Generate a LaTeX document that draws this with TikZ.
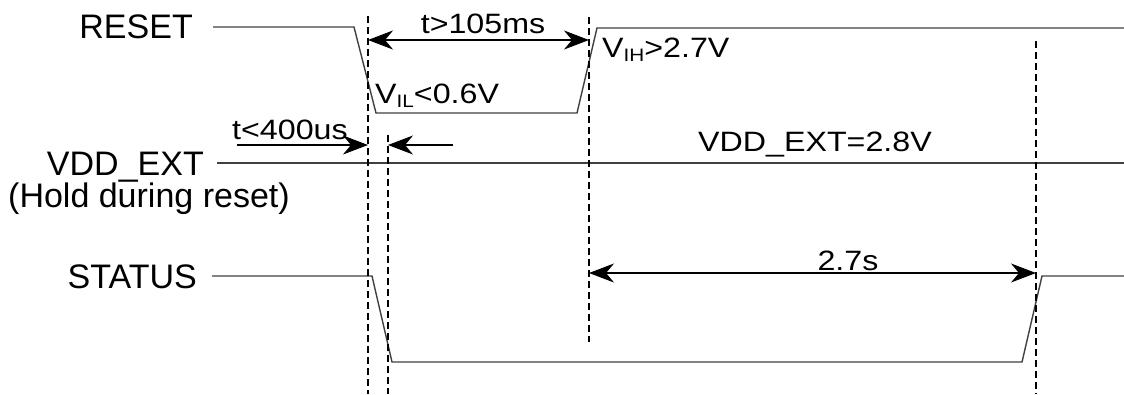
\documentclass[tikz,border=0pt]{standalone}
\usepackage{fontspec}
\setmainfont{Liberation Sans}
\newfontfamily\notefont[FakeStretch=1.15]{Liberation Sans}
\usetikzlibrary{arrows.meta,positioning,calc}

\tikzset{
  signal/.style={black!75, line width=1.4pt, line join=miter},
  guide/.style={black, line width=1.1pt, dash pattern=on 7pt off 4pt},
  span/.style={black, line width=1.1pt},
  lbl/.style={inner sep=0pt, font=\fontsize{34}{40}\selectfont},
  note/.style={inner sep=0pt, font=\notefont\fontsize{28}{32}\selectfont}
}

\begin{document}
\begin{tikzpicture}[x=1pt, y=-1pt, >={Stealth[length=25pt,width=19pt,inset=8pt]}]
    \useasboundingbox (0,0) rectangle (1124,394);

    % edges of the reset pulse and of the status output
    \def \fallA {368}
    \def \fallB {388}
    \def \riseA {589}
    \def \riseB {1036}

    % signal names
    \node[lbl, anchor=base east] (reset) at (193,38) {RESET};
    \node[lbl, anchor=base east] (vdd) at (204,175) {VDD\_EXT};
    \node[lbl, anchor=base west] (hold) at (8,207) {(Hold during reset)};
    \node[lbl, anchor=base east] (status) at (197,288) {STATUS};

    % waveforms
    \draw[signal] (213,27) -- (354,27) -- (376,113) -- (577,113) -- (597,28) -- (1124,28);
    \draw[signal] (217,163) -- (1124,163);
    \draw[signal] (212,276) -- (372,276) -- (392,362) -- (1022,362) -- (1042,276) -- (1124,276);

    % timing marks
    \draw[guide] (\fallA,16) -- (\fallA,394);
    \draw[guide] (\fallB,135) -- (\fallB,394);
    \draw[guide] (\riseA,17) -- (\riseA,342);
    \draw[guide] (\riseB,41) -- (\riseB,394);

    \coordinate (low start) at (\fallA,40);
    \coordinate (low end) at (\riseA,40);
    \coordinate (hold in) at (237,145);
    \coordinate (hold a) at (\fallA,145);
    \coordinate (hold b) at (\fallB,145);
    \coordinate (hold out) at (453,145);
    \coordinate (boot start) at (\riseA,273);
    \coordinate (boot end) at (\riseB,273);

    \draw[span, <->] (low start) -- (low end);
    \draw[span, ->] (hold in) -- (hold a);
    \draw[span, ->] (hold out) -- (hold b);
    \draw[span, <->] (boot start) -- (boot end);

    % values
    \node[note, anchor=base] (tlow) at (483,33) {t>105ms};
    \node[note, anchor=base west] (vil) at (375,103) {V{\fontsize{18}{20}\selectfont\raisebox{-4pt}{IL}}<0.6V};
    \node[note, anchor=base west] (vih) at (602,57) {V{\fontsize{18}{20}\selectfont\raisebox{-4pt}{IH}}>2.7V};
    \node[note, anchor=base west] (thold) at (232,139) {t<400us};
    \node[note, anchor=base west] (vval) at (698,151) {VDD\_EXT=2.8V};
    \node[note, anchor=base] (tboot) at (848,270) {2.7s};
\end{tikzpicture}
\end{document}
